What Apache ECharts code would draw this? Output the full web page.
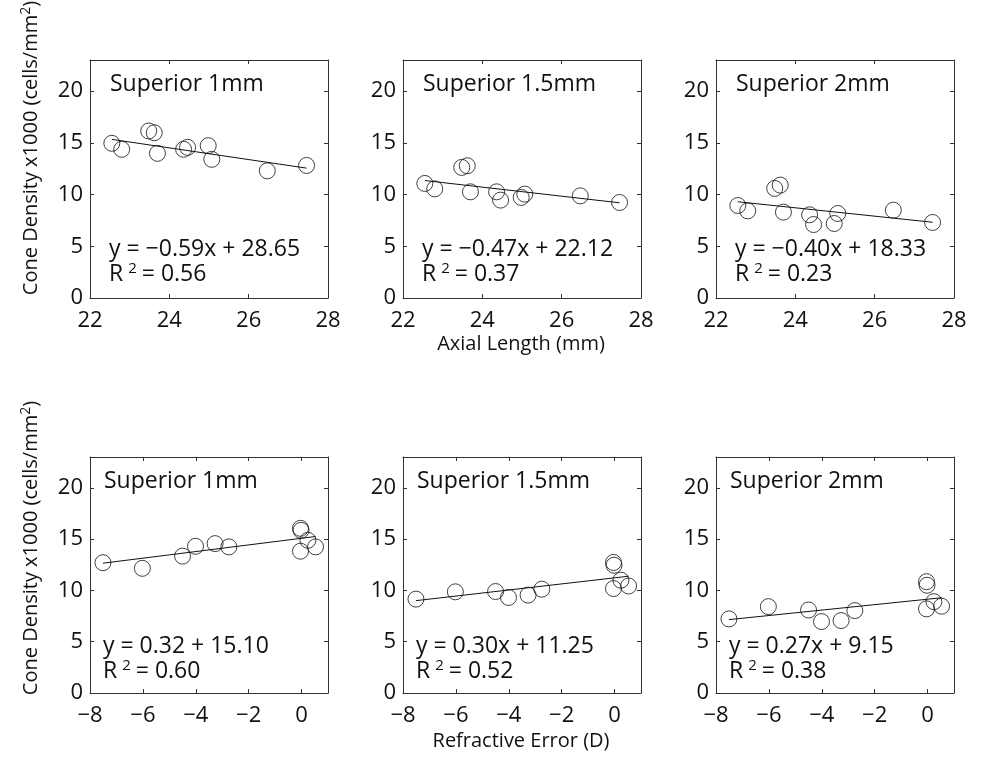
<!DOCTYPE html>
<html>
<head>
<meta charset="utf-8">
<script src="https://cdn.jsdelivr.net/npm/echarts@6/dist/echarts.min.js"></script>
<style>
  html, body { margin: 0; padding: 0; background: #fff; }
  #chart { width: 982px; height: 760px; }
</style>
</head>
<body>
<div id="chart"></div>
<script>
// ---- data ----
const axialLength = [22.55, 22.80, 23.48, 23.62, 23.70, 24.36, 24.46, 24.98, 25.07, 26.47, 27.46];
const sup1mmAL   = [14.95, 14.37, 16.14, 15.97, 13.98, 14.37, 14.56, 14.72, 13.40, 12.29, 12.81];
const sup15mmAL  = [11.07, 10.55, 12.62, 12.78, 10.26, 10.26, 9.46, 9.72, 10.04, 9.87, 9.23];
const sup2mmAL   = [8.94, 8.42, 10.59, 10.91, 8.30, 8.04, 7.10, 7.20, 8.17, 8.49, 7.30];

const refractiveError = [-7.51, -6.02, -4.50, -4.01, -3.27, -2.75, -0.04, -0.02, 0.24, 0.53, -0.04];
const sup1mmRE   = [12.70, 12.15, 13.34, 14.30, 14.56, 14.24, 16.05, 15.85, 14.88, 14.24, 13.82];
const sup15mmRE  = [9.15, 9.86, 9.89, 9.31, 9.54, 10.12, 12.72, 12.45, 10.99, 10.43, 10.18];
const sup2mmRE   = [7.22, 8.42, 8.09, 6.96, 7.06, 8.03, 10.85, 10.50, 8.90, 8.46, 8.20];

// fitted line end points
const fitAL1  = [[22.55, 15.33], [27.46, 12.55]];
const fitAL15 = [[22.55, 11.35], [27.46, 9.20]];
const fitAL2  = [[22.55, 9.30],  [27.46, 7.32]];
const fitRE1  = [[-7.51, 12.65], [0.53, 15.25]];
const fitRE15 = [[-7.51, 9.00],  [0.53, 11.38]];
const fitRE2  = [[-7.51, 7.15],  [0.53, 9.28]];

const panelTitles = ['Superior 1mm', 'Superior 1.5mm', 'Superior 2mm', 'Superior 1mm', 'Superior 1.5mm', 'Superior 2mm'];
const equations = ['y = \u22120.59x + 28.65', 'y = \u22120.47x + 22.12', 'y = \u22120.40x + 18.33',
                   'y = 0.32 + 15.10', 'y = 0.30x + 11.25', 'y = 0.27x + 9.15'];
const rSquared = ['0.56', '0.37', '0.23', '0.60', '0.52', '0.38'];

const yTicks = [0, 5, 10, 15, 20];
const alTicks = [22, 24, 26, 28];
const reTicks = [-8, -6, -4, -2, 0];

const yLabel = 'Cone Density x1000 (cells/mm';
const xLabelTop = 'Axial Length (mm)';
const xLabelBottom = 'Refractive Error (D)';

// ---- layout ----
const FONT = '"Open Sans", "Noto Sans", sans-serif';
const TXT = '#111';
const lefts = [90, 403, 716];
const W = 238;
const rows = [{ top: 60, h: 238 }, { top: 457, h: 236 }];

const panels = [
  { x: axialLength, y: sup1mmAL, fit: fitAL1, type: 'al' },
  { x: axialLength, y: sup15mmAL, fit: fitAL15, type: 'al' },
  { x: axialLength, y: sup2mmAL, fit: fitAL2, type: 'al' },
  { x: refractiveError, y: sup1mmRE, fit: fitRE1, type: 're' },
  { x: refractiveError, y: sup15mmRE, fit: fitRE15, type: 're' },
  { x: refractiveError, y: sup2mmRE, fit: fitRE2, type: 're' }
];

const grid = [], xAxis = [], yAxis = [], series = [], graphic = [];
const lineCol = '#333';

function fmtNum(v) { return v < 0 ? '\u2212' + Math.abs(v) : String(v); }

panels.forEach((p, i) => {
  const r = i < 3 ? 0 : 1, c = i % 3;
  const left = lefts[c], top = rows[r].top, h = rows[r].h;
  grid.push({ left: left, top: top, width: W, height: h, containLabel: false });
  const isAL = p.type === 'al';
  const ticks = isAL ? alTicks : reTicks;
  const xmin = isAL ? 22 : -8, xmax = isAL ? 28 : 1;
  const baseX = {
    gridIndex: i, type: 'value', min: xmin, max: xmax, interval: 2,
    axisLine: { show: true, onZero: false, lineStyle: { color: lineCol, width: 1 } },
    axisTick: { show: true, inside: true, length: 4, lineStyle: { color: lineCol } },
    splitLine: { show: false }
  };
  xAxis.push(Object.assign({}, baseX, {
    position: 'bottom',
    axisLabel: {
      show: true, margin: 12, fontFamily: FONT, fontSize: 22, color: TXT,
      showMinLabel: true, showMaxLabel: true,
      formatter: v => ticks.indexOf(v) >= 0 ? fmtNum(v) : ''
    }
  }));
  xAxis.push(Object.assign({}, baseX, { position: 'top', axisLabel: { show: false } }));
  const baseY = {
    gridIndex: i, type: 'value', min: 0, max: 23, interval: 5,
    axisLine: { show: true, onZero: false, lineStyle: { color: lineCol, width: 1 } },
    axisTick: { show: true, inside: true, length: 4, lineStyle: { color: lineCol } },
    splitLine: { show: false }
  };
  yAxis.push(Object.assign({}, baseY, {
    position: 'left',
    axisLabel: {
      show: true, margin: 7, fontFamily: FONT, fontSize: 22, color: TXT,
      showMinLabel: true, showMaxLabel: false,
      formatter: v => yTicks.indexOf(v) >= 0 ? String(v) : ''
    }
  }));
  yAxis.push(Object.assign({}, baseY, { position: 'right', axisLabel: { show: false } }));

  series.push({
    type: 'scatter', xAxisIndex: 2 * i, yAxisIndex: 2 * i,
    symbol: 'circle', symbolSize: 16,
    itemStyle: { color: 'rgba(0,0,0,0)', borderColor: '#111', borderWidth: 1 },
    data: p.x.map((xv, k) => [xv, p.y[k]]),
    silent: true, z: 3
  });
  series.push({
    type: 'line', xAxisIndex: 2 * i, yAxisIndex: 2 * i,
    symbol: 'none', data: p.fit,
    lineStyle: { color: '#111', width: 1 }, silent: true, z: 2
  });

  const off = r === 0 ? 20 : 14;
  graphic.push({
    type: 'text', x: left + off, y: top + 24,
    style: { text: panelTitles[i], font: '23px ' + FONT, fill: TXT, align: 'left', verticalAlign: 'middle' }
  });
  graphic.push({
    type: 'text', x: left + off - 1, y: top + 189,
    style: { text: equations[i], font: '23px ' + FONT, fill: TXT, align: 'left', verticalAlign: 'middle' }
  });
  graphic.push({
    type: 'text', x: left + off - 1, y: top + 214,
    style: {
      text: '{r|R}{s|2}{e|= ' + rSquared[i] + '}',
      align: 'left', verticalAlign: 'middle', fill: TXT,
      rich: {
        r: { fontFamily: FONT, fontSize: 23, lineHeight: 26, fill: TXT },
        s: { fontFamily: FONT, fontSize: 15, lineHeight: 26, verticalAlign: 'top', padding: [0, 5, 0, 5], fill: TXT },
        e: { fontFamily: FONT, fontSize: 23, lineHeight: 26, fill: TXT }
      }
    }
  });
});

// axis names
[148, 548].forEach(cy => {
  graphic.push({
    type: 'text', x: 31, y: cy, rotation: Math.PI / 2,
    style: {
      text: '{a|' + yLabel + '}{s|2}{a|)}',
      align: 'center', verticalAlign: 'middle', fill: TXT,
      rich: {
        a: { fontFamily: FONT, fontSize: 20, lineHeight: 24, fill: TXT },
        s: { fontFamily: FONT, fontSize: 14, lineHeight: 24, verticalAlign: 'top', fill: TXT }
      }
    }
  });
});
graphic.push({
  type: 'text', x: 521, y: 344,
  style: { text: xLabelTop, font: '20px ' + FONT, fill: TXT, align: 'center', verticalAlign: 'middle' }
});
graphic.push({
  type: 'text', x: 521, y: 741,
  style: { text: xLabelBottom, font: '20px ' + FONT, fill: TXT, align: 'center', verticalAlign: 'middle' }
});

const chart = echarts.init(document.getElementById('chart'), null, { renderer: 'canvas' });
chart.setOption({
  animation: false,
  backgroundColor: '#fff',
  grid: grid, xAxis: xAxis, yAxis: yAxis, series: series, graphic: graphic
});
</script>
</body>
</html>
